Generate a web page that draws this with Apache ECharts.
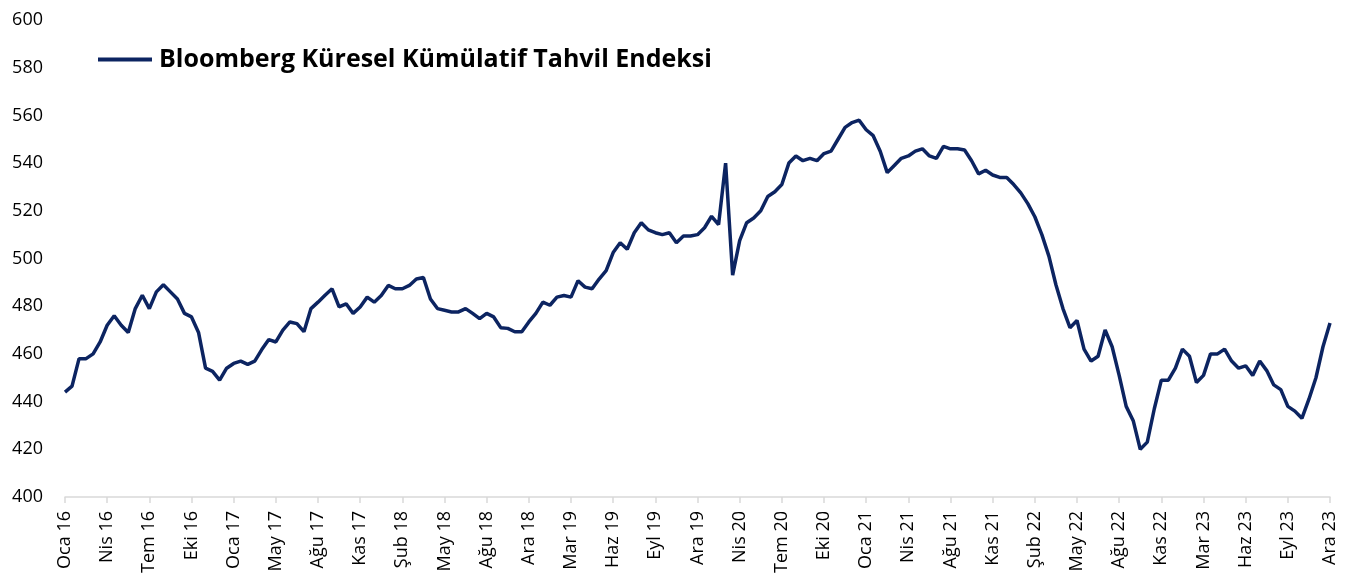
<!DOCTYPE html>
<html>
<head>
<meta charset="utf-8">
<script src="https://cdn.jsdelivr.net/npm/echarts@6/dist/echarts.min.js"></script>
<style>
    html, body { margin: 0; padding: 0; background: #fff; }
    #chart { width: 1353px; height: 587px; }
</style>
</head>
<body>
<div id="chart"></div>
<script>
    'use strict'

    var seriesName = 'Bloomberg Küresel Kümülatif Tahvil Endeksi';

    // axis labels, one every 6 data points
    var tickLabels = ['Oca 16', 'Nis 16', 'Tem 16', 'Eki 16', 'Oca 17', 'May 17', 'Ağu 17', 'Kas 17',
        'Şub 18', 'May 18', 'Ağu 18', 'Ara 18', 'Mar 19', 'Haz 19', 'Eyl 19', 'Ara 19',
        'Nis 20', 'Tem 20', 'Eki 20', 'Oca 21', 'Nis 21', 'Ağu 21', 'Kas 21', 'Şub 22',
        'May 22', 'Ağu 22', 'Kas 22', 'Mar 23', 'Haz 23', 'Eyl 23', 'Ara 23'];
    var pointsPerLabel = 6;

    // index values
    var values = [
        444, 446.5, 458, 458, 460, 465, 472, 476, 472, 469,
        479, 484.6, 479, 486, 489, 486, 483, 477, 475.5, 469,
        454, 452.7, 449, 454, 456, 457, 455.6, 457, 461.8, 466,
        465,
        470, 473.4, 472.7, 469.3, 479, 481.7, 484.6, 487.3, 479.7, 481,
        477, 479.7, 483.8, 481.7, 484.5, 488.7, 487.3, 487.3, 488.7, 491.4,
        492, 483, 479, 478.3, 477.6, 477.6, 479, 477, 474.8, 477,
        475.5,
        471, 470.7, 469.3, 469.3, 473.4, 477, 481.7, 480.4, 483.8, 484.5,
        483.8, 490.7, 488, 487.3, 491.4, 494.9, 502.5, 506.6, 503.9, 510.8,
        515, 512, 510.8, 510, 510.8, 506.6, 509.4, 509.4, 510, 512.9,
        517.7, 514.2,
        540, 493, 507.5, 515, 517, 520, 526, 528, 531, 540,
        543, 541, 542, 541, 544, 545, 550, 555, 557, 558,
        554, 551.5, 545, 536, 539, 542, 543, 545, 546, 543,
        542, 547, 546,
        546, 545.5, 541, 535.5, 537, 535, 534, 534, 531, 527.5,
        523, 517.5, 510, 501, 489, 479, 471, 474, 462, 457,
        459, 470, 463,
        451, 438, 432, 420, 423, 437, 449, 449, 454, 462,
        459, 448, 451, 460, 460, 462, 457, 454, 455, 451,
        457, 453, 447, 445, 438, 436, 433, 441, 450, 463,
        473
    ];

    var categories = values.map(function (v, i) {
        return i % pointsPerLabel === 0 ? tickLabels[i / pointsPerLabel] : '';
    });

    var chart = echarts.init(document.getElementById('chart'));

    chart.setOption({
        animation: false,
        textStyle: { fontFamily: 'Open Sans' },
        grid: { left: 65, right: 23, top: 20, bottom: 90 },
        legend: {
            left: 93,
            top: 42,
            icon: 'rect',
            itemWidth: 54,
            itemHeight: 4,
            itemGap: 0,
            textStyle: { fontSize: 25, fontWeight: 'bold', color: '#000', fontFamily: 'Open Sans', padding: [0, 0, 0, 2] },
            data: [seriesName]
        },
        xAxis: {
            type: 'category',
            data: categories,
            boundaryGap: false,
            axisLine: { lineStyle: { color: '#d9d9d9', width: 1.5 } },
            axisTick: { show: true, interval: pointsPerLabel - 1, length: 6, lineStyle: { color: '#d9d9d9', width: 1.5 } },
            axisLabel: { interval: pointsPerLabel - 1, rotate: 90, margin: 14, fontSize: 18, color: '#000' },
            splitLine: { show: false }
        },
        yAxis: {
            type: 'value',
            min: 400,
            max: 600,
            interval: 20,
            axisLine: { show: false },
            axisTick: { show: false },
            axisLabel: { fontSize: 18, color: '#000', margin: 22 },
            splitLine: { show: false }
        },
        series: [{
            name: seriesName,
            type: 'line',
            data: values,
            showSymbol: false,
            lineStyle: { color: '#0c2461', width: 3.5 },
            itemStyle: { color: '#0c2461' }
        }]
    });
</script>
</body>
</html>
